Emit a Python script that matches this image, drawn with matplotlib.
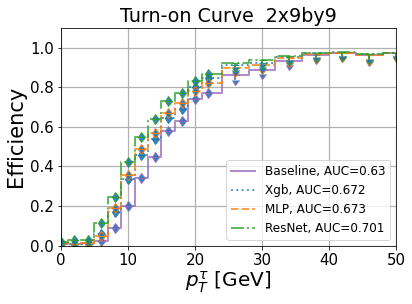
import matplotlib
matplotlib.use('Agg')
import matplotlib.pyplot as plt
import numpy as np

# bin centres (GeV): 2 GeV bins up to 22, then 4 GeV bins
pt = [0, 2, 4, 6, 8, 10, 12, 14, 16, 18, 20, 22, 26, 30, 34, 38, 42, 46, 50]

eff_baseline = [0.01, 0.01, 0.015, 0.025, 0.09, 0.20, 0.34, 0.45, 0.58, 0.63, 0.74, 0.77,
                0.86, 0.89, 0.935, 0.965, 0.973, 0.962, 0.973]
eff_xgb = [0.015, 0.01, 0.01, 0.06, 0.17, 0.335, 0.46, 0.54, 0.645, 0.69, 0.80, 0.848,
           0.912, 0.925, 0.952, 0.972, 0.976, 0.966, 0.974]
eff_mlp = [0.015, 0.01, 0.015, 0.05, 0.19, 0.355, 0.487, 0.57, 0.67, 0.72, 0.78, 0.82,
           0.90, 0.915, 0.95, 0.97, 0.975, 0.965, 0.972]
eff_resnet = [0.02, 0.028, 0.03, 0.115, 0.245, 0.425, 0.55, 0.64, 0.73, 0.77, 0.83, 0.865,
              0.925, 0.94, 0.958, 0.975, 0.978, 0.97, 0.975]

# lower uncertainty (only shown for the wide bins)
err_low = [0, 0, 0, 0, 0, 0, 0, 0, 0, 0, 0, 0,
           0.022, 0.022, 0.022, 0.022, 0.02, 0.027, 0.018]
is_lower_limit = [True] * 12 + [False] * 7

labels = ['Baseline, AUC=0.63', 'Xgb, AUC=0.672', 'MLP, AUC=0.673', 'ResNet, AUC=0.701']


def plot_turn_on():
    fig = plt.figure(figsize=(412 / 72, 304 / 72), dpi=72)
    ax = fig.add_axes([0.148, 0.192, 0.813, 0.716])

    series = [eff_baseline, eff_xgb, eff_mlp, eff_resnet]
    colors = ['tab:purple', 'tab:blue', 'tab:orange', 'tab:green']
    styles = ['-', ':', '--', '-.']

    for eff, c, ls, lab in zip(series, colors, styles, labels):
        ax.step(pt, eff, where='mid', color=c, ls=ls, lw=2, alpha=0.75, label=lab)
        ax.errorbar(pt, eff, yerr=err_low, fmt='none', ecolor=c, elinewidth=2,
                    alpha=0.9, capsize=3.5, lolims=is_lower_limit,
                    uplims=[True] * len(pt))

    ax.set_xlim(0, 50)
    ax.set_ylim(0, 1.1)
    ax.set_xticks(np.arange(0, 51, 10))
    ax.set_yticks(np.arange(0, 1.01, 0.2))
    ax.tick_params(labelsize=15)
    ax.grid(True, color='#b0b0b0', lw=1.2)
    ax.set_axisbelow(True)

    ax.set_xlabel(r'$p_T^{\tau}$ [GeV]', fontsize=20, labelpad=2)
    ax.set_ylabel('Efficiency', fontsize=21)
    ax.set_title('Turn-on Curve  2x9by9', fontsize=19)
    ax.legend(loc='lower right', fontsize=12)

    fig.savefig('out.png', dpi=72)


if __name__ == "__main__":
    plot_turn_on()
